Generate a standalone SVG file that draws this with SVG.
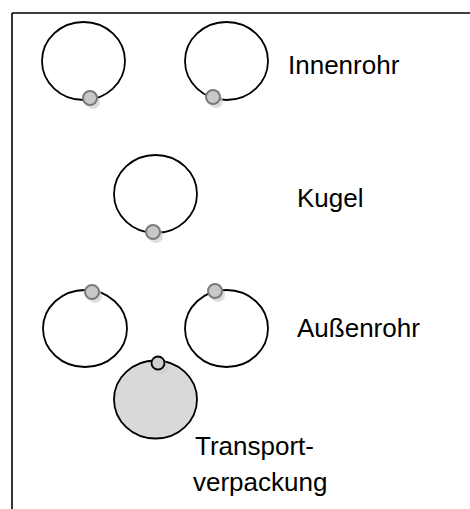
<svg xmlns="http://www.w3.org/2000/svg" width="470" height="509" viewBox="0 0 470 509">
  <defs>
    <style>
      .ring { fill: none; stroke: #000; stroke-width: 1.8; }
      .pack { fill: #d9d9d9; stroke: #000; stroke-width: 1.8; }
      .bead { fill: #c8c8c8; stroke: #7a7a7a; stroke-width: 2; }
      .beadShadow { fill: #cfcfcf; opacity: 0.7; }
      .cap { fill: #d0d0d0; stroke: #000; stroke-width: 1.8; }
      .label { font-family: "Liberation Sans", Arial, sans-serif; font-size: 26px; fill: #000; }
      .frame { stroke: #000; stroke-width: 1.6; fill: none; }
    </style>
  </defs>

  <rect width="470" height="509" fill="#fff"/>

  <!-- frame: top and left edges -->
  <g id="frame">
    <line class="frame" x1="12" y1="13" x2="470" y2="13"/>
    <line class="frame" x1="12" y1="13" x2="12" y2="509"/>
  </g>

  <!-- inner tubes -->
  <g id="innenrohr-1">
    <ellipse class="ring" cx="83.5" cy="61" rx="41.5" ry="39"/>
    <circle class="beadShadow" cx="93" cy="102" r="7"/>
    <circle class="bead" cx="90" cy="98" r="7"/>
  </g>
  <g id="innenrohr-2">
    <ellipse class="ring" cx="226.5" cy="61" rx="41.5" ry="39"/>
    <circle class="beadShadow" cx="216" cy="101" r="7"/>
    <circle class="bead" cx="213" cy="97" r="7"/>
  </g>

  <!-- ball -->
  <g id="kugel">
    <ellipse class="ring" cx="155.5" cy="194" rx="41.5" ry="39"/>
    <circle class="beadShadow" cx="156" cy="236" r="7"/>
    <circle class="bead" cx="153" cy="232" r="7"/>
  </g>

  <!-- outer tubes -->
  <g id="aussenrohr-1">
    <ellipse class="ring" cx="85" cy="328.5" rx="42" ry="38.5"/>
    <circle class="beadShadow" cx="95" cy="296" r="7"/>
    <circle class="bead" cx="92" cy="292" r="7"/>
  </g>
  <g id="aussenrohr-2">
    <ellipse class="ring" cx="226.5" cy="328.5" rx="41.5" ry="38.5"/>
    <circle class="beadShadow" cx="218" cy="295" r="7"/>
    <circle class="bead" cx="215" cy="291" r="7"/>
  </g>

  <!-- transport packaging -->
  <g id="transportverpackung">
    <ellipse class="pack" cx="155.5" cy="399.5" rx="41.5" ry="39"/>
    <circle class="beadShadow" cx="161" cy="367" r="7"/>
    <circle class="cap" cx="158" cy="363" r="6.5"/>
  </g>

  <!-- labels -->
  <g id="labels">
    <text class="label" x="288" y="74">Innenrohr</text>
    <text class="label" x="297" y="207">Kugel</text>
    <text class="label" x="297" y="337">Außenrohr</text>
    <text class="label" x="195" y="455">Transport-</text>
    <text class="label" x="193" y="491">verpackung</text>
  </g>
</svg>
